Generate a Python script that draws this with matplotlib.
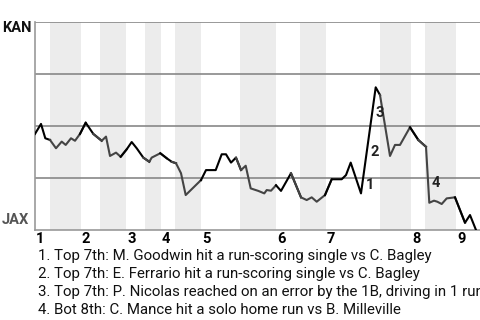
import matplotlib
matplotlib.use("Agg")
import matplotlib.pyplot as plt

# win probability trace (x = play position, y = KAN win prob)
play_x = [0, 6, 10.3, 15, 21, 26.7, 30.7, 36, 40, 45, 50.7, 58.3, 66.7, 71, 75, 81,
          85.7, 91.7, 96.7, 101.7, 108.3, 114.3, 116.7, 125.3, 131.7, 136.7, 141,
          146, 150.7, 166, 171, 180.7, 186.7, 191, 196, 201, 206, 210.7, 215.7,
          223.3, 229.3, 231.7, 236, 241, 246, 256, 266, 271.7, 276.7, 281.7, 290,
          296.7, 306.7, 311, 315.7, 326, 340.7, 345, 355, 360, 365, 375, 383.3,
          391, 394.3, 399, 402.3, 406.7, 411.7, 420, 430, 435, 441]
win_prob = [0.462, 0.510, 0.441, 0.433, 0.393, 0.425, 0.409, 0.441, 0.429, 0.462,
            0.516, 0.462, 0.429, 0.449, 0.356, 0.372, 0.352, 0.388, 0.423, 0.393,
            0.348, 0.328, 0.348, 0.369, 0.345, 0.328, 0.321, 0.273, 0.168, 0.240,
            0.288, 0.288, 0.364, 0.364, 0.324, 0.348, 0.288, 0.309, 0.200, 0.188,
            0.176, 0.192, 0.189, 0.215, 0.188, 0.273, 0.157, 0.144, 0.157, 0.136,
            0.168, 0.244, 0.244, 0.264, 0.324, 0.176, 0.686, 0.649, 0.356, 0.409,
            0.409, 0.494, 0.433, 0.400, 0.131, 0.141, 0.136, 0.125, 0.152, 0.157,
            0.035, 0.072, 0.0]

# half-inning boundaries (top, bottom, top, ...)
half_starts = [0, 15, 46, 65, 91, 110, 126, 140, 166, 205, 241, 265, 291, 345,
               376, 390, 421, 441]
inning_labels = ["1", "2", "3", "4", "5", "6", "7", "8", "9"]

event_x = [327.2, 332, 337.3, 393]
event_y = [0.216, 0.375, 0.5625, 0.226]
event_labels = ["1", "2", "3", "4"]
notes = [
    "1. Top 7th: M. Goodwin hit a run-scoring single vs C. Bagley",
    "2. Top 7th: E. Ferrario hit a run-scoring single vs C. Bagley",
    "3. Top 7th: P. Nicolas reached on an error by the 1B, driving in 1 run",
    "4. Bot 8th: C. Mance hit a solo home run vs B. Milleville",
]

plt.rcParams['font.family'] = ['Roboto', 'DejaVu Sans']

fig = plt.figure(figsize=(4.8, 3.2), dpi=100)
ax = fig.add_axes([35 / 480, 90 / 320, 445 / 480, 208 / 320])
ax.set_xlim(0, 445)
ax.set_ylim(0, 1)

# shaded bottom halves
for i in range(1, len(half_starts) - 1, 2):
    ax.axvspan(half_starts[i], half_starts[i + 1], color='#ececec', lw=0, zorder=0)

for lvl in [0.25, 0.5, 0.75, 1.0]:
    ax.axhline(lvl, color='#888888', lw=1.2, zorder=1)

# line, black in top halves, dark gray in bottom halves
for i in range(len(half_starts) - 1):
    a, b = half_starts[i], half_starts[i + 1]
    xs, ys = [], []
    for j in range(len(play_x) - 1):
        x0, x1 = play_x[j], play_x[j + 1]
        if x1 <= a or x0 >= b:
            continue
        if not xs:
            xs.append(x0)
            ys.append(win_prob[j])
        xs.append(x1)
        ys.append(win_prob[j + 1])
    col = '#000000' if i % 2 == 0 else '#444444'
    ax.plot(xs, ys, color=col, lw=1.5, zorder=3)

for ex, ey, lab in zip(event_x, event_y, event_labels):
    ax.annotate(lab, (ex, ey), xytext=(2.5, 0), textcoords='offset points',
                ha='left', va='center', fontsize=10.5, fontweight='bold',
                color='#222222', zorder=4)

for s in ['top', 'right']:
    ax.spines[s].set_visible(False)
ax.spines['left'].set_color('#999999')
ax.spines['bottom'].set_color('#999999')
ax.spines['left'].set_linewidth(1.2)
ax.spines['bottom'].set_linewidth(1.2)
ax.set_xticks([])
ax.set_yticks([])

tops = half_starts[0:-1:2]
for x, lab in zip(tops, inning_labels):
    ax.text(x + 1, -0.01, lab, ha='left', va='top', fontsize=10.5,
            fontweight='bold', transform=ax.transData)

fig.text(2 / 480, 1 - 28 / 320, "KAN", ha='left', va='center', fontsize=10.5,
         fontweight='bold', color='#111111')
fig.text(2 / 480, 1 - 220 / 320, "JAX", ha='left', va='center', fontsize=10.5,
         fontweight='bold', color='#555555')

for k, note in enumerate(notes):
    fig.text(38 / 480, 1 - (256 + 18 * k) / 320, note, ha='left', va='center',
             fontsize=10.8, color='#111111')

fig.savefig("out.png", dpi=100)
